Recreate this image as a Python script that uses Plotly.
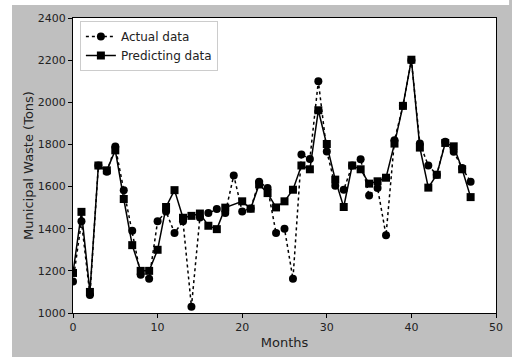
import plotly.graph_objects as go

months_actual = list(range(48))
actual = [1150, 1435, 1085, 1700, 1670, 1790, 1583, 1390, 1182, 1162,
          1435, 1482, 1380, 1435, 1030, 1453, 1474, 1493, 1474, 1653,
          1482, 1496, 1623, 1593, 1380, 1400, 1162, 1752, 1731, 2100,
          1766, 1604, 1585, 1700, 1730, 1558, 1593, 1369, 1820, 1983,
          2200, 1804, 1700, 1656, 1813, 1765, 1688, 1623]

months_pred = [m for m in range(48) if m != 19]
predicted = [1190, 1480, 1100, 1700, 1677, 1772, 1541, 1322, 1200, 1200,
             1300, 1503, 1583, 1452, 1461, 1472, 1414, 1398, 1500,
             1530, 1495, 1610, 1569, 1501, 1530, 1585, 1700, 1682, 1962,
             1802, 1633, 1503, 1700, 1682, 1614, 1625, 1642, 1804, 1983,
             2202, 1785, 1595, 1656, 1807, 1791, 1682, 1550]

x_ticks = [0, 10, 20, 30, 40, 50]
y_ticks = [1000, 1200, 1400, 1600, 1800, 2000, 2200, 2400]

fig = go.Figure()
fig.add_trace(go.Scatter(
    x=months_actual, y=actual, name="Actual data", mode="lines+markers",
    line=dict(color="black", width=1.5, dash="dot"),
    marker=dict(symbol="circle", size=8, color="black"),
))
fig.add_trace(go.Scatter(
    x=months_pred, y=predicted, name="Predicting data", mode="lines+markers",
    line=dict(color="black", width=1.5),
    marker=dict(symbol="square", size=8, color="black"),
))

L, R, T, B = 73, 9, 18, 44
W, H = 512, 357
pw, ph = W - L - R, H - T - B

fig.update_layout(
    width=W, height=H,
    margin=dict(l=L, r=R, t=T, b=B, pad=0),
    paper_bgcolor="#bfbfbf",
    plot_bgcolor="white",
    font=dict(family="DejaVu Sans", size=11, color="#222222"),
    showlegend=True,
    legend=dict(
        x=(80 - L) / pw, y=(H - B - 21) / ph, xanchor="left", yanchor="top",
        bgcolor="white", bordercolor="#cccccc", borderwidth=1,
        font=dict(size=12, color="#222222"), itemwidth=30,
        tracegroupgap=0,
    ),
    xaxis=dict(
        range=[0, 50], tickvals=x_ticks, ticks="outside", ticklen=4,
        tickcolor="black", showline=True, linecolor="black", linewidth=1,
        mirror=True, showgrid=False, zeroline=False,
        title=dict(text="Months", font=dict(size=13), standoff=4),
    ),
    yaxis=dict(
        range=[1000, 2400], tickvals=y_ticks, ticks="outside", ticklen=4,
        tickcolor="black", showline=True, linecolor="black", linewidth=1,
        mirror=True, showgrid=False, zeroline=False,
        title=dict(text="Municipal Waste (Tons)", font=dict(size=13), standoff=1),
    ),
    shapes=[
        dict(type="rect", xref="paper", yref="paper", layer="below",
             x0=-L / pw - 0.01, x1=(11 - L) / pw, y0=-B / ph - 0.01, y1=(H - B + 1) / ph + 0.05,
             fillcolor="white", line=dict(width=0)),
        dict(type="rect", xref="paper", yref="paper", layer="below",
             x0=-L / pw - 0.01, x1=1 + R / pw + 0.01, y0=(H - B - 5) / ph, y1=(H - B) / ph + 0.05,
             fillcolor="white", line=dict(width=0)),
    ],
)

fig.write_html("out.html")
